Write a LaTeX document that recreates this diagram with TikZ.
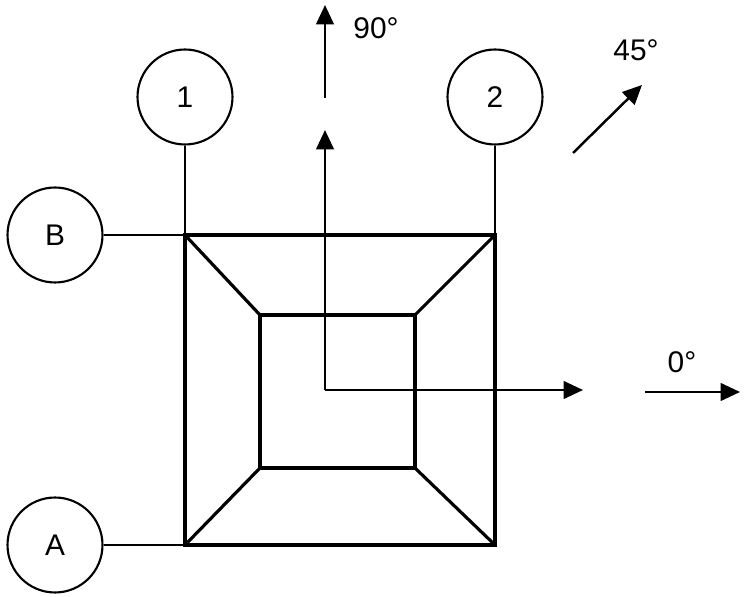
\documentclass[tikz,border=0pt]{standalone}
\usepackage{fontspec}
\setmainfont{Liberation Sans}
\usetikzlibrary{arrows.meta}
\tikzset{
  port/.style = {circle, draw, line width=1.2pt, minimum size=1.9cm, inner sep=0pt, font=\fontsize{17}{20}\selectfont},
  frame/.style = {line width=1.8pt},
  lead/.style = {line width=1.2pt},
  dir/.style = {line width=1.4pt, -{Triangle[length=11pt,width=10pt]}},
  angle/.style = {font=\fontsize{17}{20}\selectfont},
}
\begin{document}
\begin{tikzpicture}[x=0.02cm, y=-0.02cm]
  \useasboundingbox (0,0) rectangle (748,597);
  % ports
  \node[port] (p1) at (185,97) {1};
  \node[port] (p2) at (495,97) {2};
  \node[port] (pB) at (55,235) {B};
  \node[port] (pA) at (55,545) {A};
  % outer and inner square
  \coordinate (o1) at (185,235); \coordinate (o2) at (495,235);
  \coordinate (o3) at (495,545); \coordinate (o4) at (185,545);
  \coordinate (i1) at (260,315); \coordinate (i2) at (415,315);
  \coordinate (i3) at (415,468); \coordinate (i4) at (260,468);
  \draw[frame] (o1) -- (o2) -- (o3) -- (o4) -- cycle;
  \draw[frame] (i1) -- (i2) -- (i3) -- (i4) -- cycle;
  \foreach \k in {1,...,4}
    \draw[frame] (o\k) -- (i\k);
  % leads
  \draw[lead] (p1.south) -- (o1);
  \draw[lead] (p2.south) -- (o2);
  \draw[lead] (pB.east) -- (o1);
  \draw[lead] (pA.east) -- (o4);
  % axes
  \coordinate (c) at (325,390);
  \coordinate (ay) at (325,130);
  \coordinate (ax) at (583,390);
  \draw[dir] (ay |- c) -- (ay);
  \draw[dir] (c) -- (ax);
  % directions
  \coordinate (d90a) at (325,98); \coordinate (d90b) at (325,5);
  \coordinate (d45a) at (573,153); \coordinate (d45b) at (642,85);
  \coordinate (d0a) at (645,392); \coordinate (d0b) at (740,392);
  \draw[dir] (d90a) -- (d90b);
  \draw[dir] (d45a) -- (d45b);
  \draw[dir] (d0a) -- (d0b);
  \node[angle] (l90) at (376,28) {90°};
  \node[angle] (l45) at (636,50) {45°};
  \node[angle] (l0) at (682,362) {0°};
\end{tikzpicture}
\end{document}
